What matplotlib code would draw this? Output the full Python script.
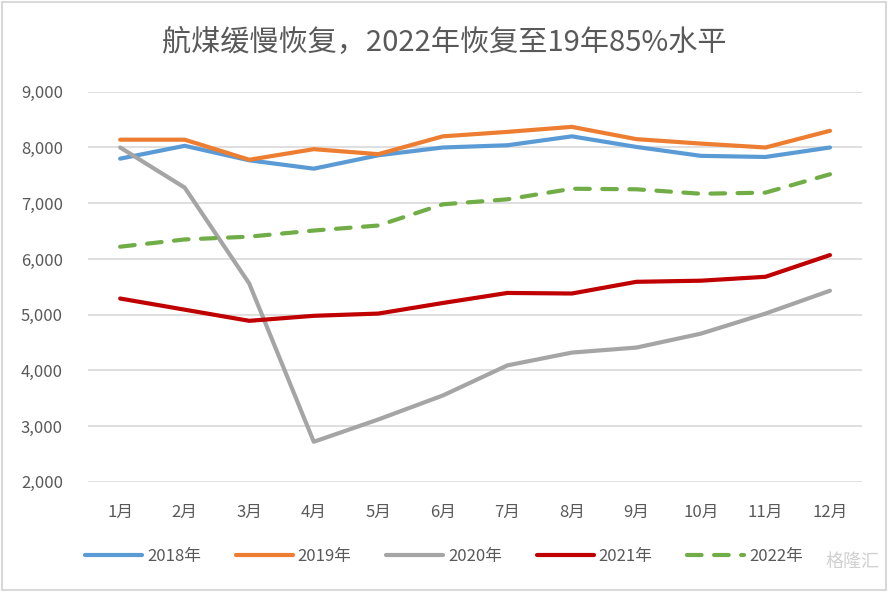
import matplotlib
matplotlib.use('Agg')
import matplotlib.pyplot as plt
from matplotlib.ticker import FuncFormatter

plt.rcParams['font.family'] = ['Noto Sans CJK SC', 'DejaVu Sans']

# data
months = ['1月', '2月', '3月', '4月', '5月', '6月', '7月', '8月', '9月', '10月', '11月', '12月']
y2018 = [7800, 8030, 7770, 7620, 7860, 8000, 8040, 8200, 8010, 7850, 7830, 8000]
y2019 = [8140, 8140, 7780, 7970, 7880, 8200, 8280, 8370, 8150, 8070, 8000, 8300]
y2020 = [8000, 7280, 5560, 2720, 3120, 3550, 4090, 4320, 4410, 4660, 5020, 5430]
y2021 = [5290, 5090, 4890, 4980, 5020, 5210, 5390, 5380, 5590, 5610, 5680, 6070]
y2022 = [6220, 6350, 6400, 6510, 6600, 6980, 7070, 7260, 7250, 7170, 7190, 7520]

fig = plt.figure(figsize=(8.88, 5.92), dpi=100)
ax = fig.add_axes([0.099, 0.186, 0.872, 0.659])

x = range(len(months))
ax.plot(x, y2018, color='#5b9bd5', lw=3, label='2018年', solid_capstyle='round')
ax.plot(x, y2019, color='#ed7d31', lw=3, label='2019年', solid_capstyle='round')
ax.plot(x, y2020, color='#a5a5a5', lw=3, label='2020年', solid_capstyle='round')
ax.plot(x, y2021, color='#c00000', lw=3, label='2021年', solid_capstyle='round')
ax.plot(x, y2022, color='#70ad47', lw=3, label='2022年', dashes=(3.5, 3), dash_capstyle='round')

ax.set_xlim(-0.5, 11.5)
ax.set_ylim(2000, 9000)
ax.set_yticks(range(2000, 9001, 1000))
ax.yaxis.set_major_formatter(FuncFormatter(lambda v, p: f'{int(v):,}'))
ax.set_xticks(list(x))
ax.set_xticklabels(months)
ax.tick_params(length=0, labelsize=12, colors='#595959')
ax.tick_params(axis='x', pad=16)
ax.tick_params(axis='y', pad=18)
ax.grid(axis='y', color='#d9d9d9', lw=1.2)
ax.set_axisbelow(True)
for s in ax.spines.values():
    s.set_visible(False)

fig.text(0.5, 0.928, '航煤缓慢恢复，2022年恢复至19年85%水平', ha='center', va='center',
         fontsize=21, color='#595959')

ax.legend(loc='upper center', bbox_to_anchor=(0.46, -0.13), ncol=5, frameon=False,
          fontsize=12, labelcolor='#595959', handlelength=3.4, columnspacing=2.1,
          handletextpad=0.3)

fig.text(0.99, 0.05, '格隆汇', ha='right', va='center', fontsize=13, color='#d0d0d0')

# light outer border
fig.patches.append(plt.Rectangle((0.002, 0.003), 0.996, 0.994, transform=fig.transFigure,
                                 fill=False, edgecolor='#d9d9d9', lw=1.5))

plt.savefig('out.png', dpi=100)
